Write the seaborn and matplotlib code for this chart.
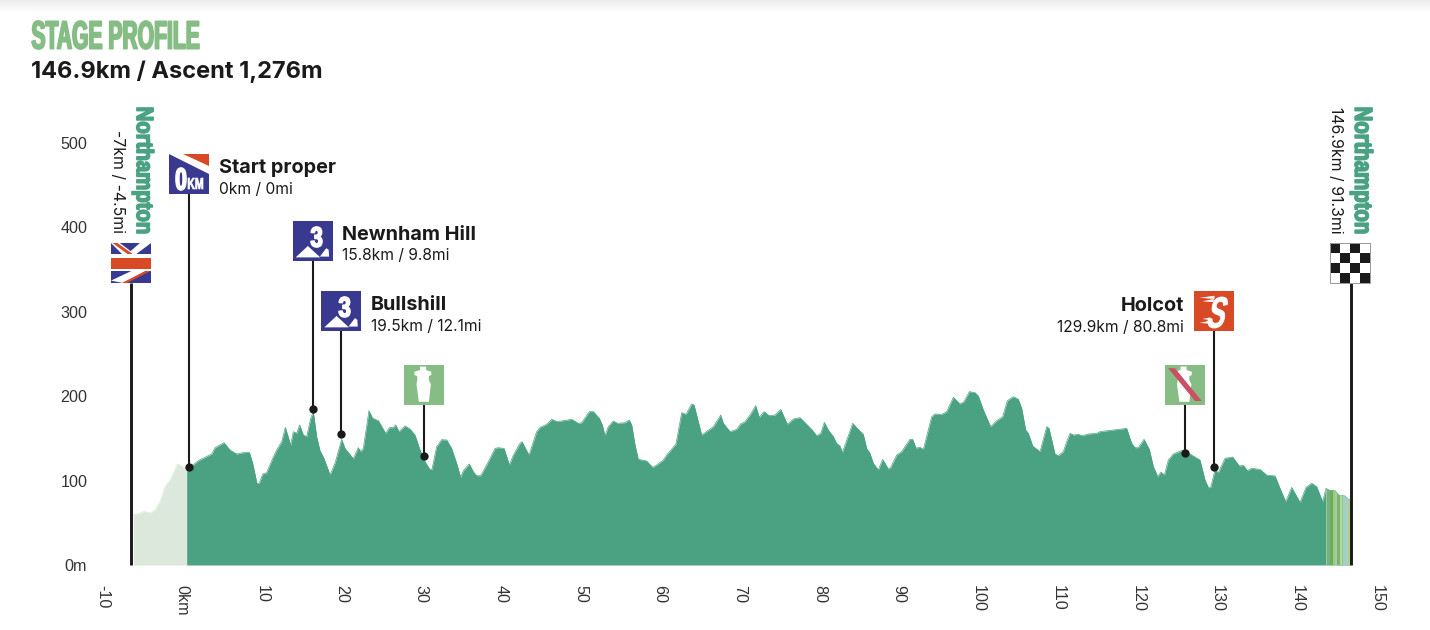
import numpy as np
import matplotlib
matplotlib.use("Agg")
import matplotlib.pyplot as plt
import seaborn as sns
from matplotlib.patches import Polygon, Rectangle
from matplotlib.text import Text
from matplotlib.textpath import TextPath
from matplotlib.transforms import Affine2D, Bbox, ScaledTranslation

# ---------- data ----------
lead_km = [-6.49,-5.86,-5.11,-4.39,-3.77,-3.14,-2.51,-1.88,-1.38,-0.96,-0.42,0.21]
lead_m = [59.2,60.8,63.6,61.6,65.2,75.0,92.8,100.7,110.6,119.7,117.3,112.6]

stage_km = [0.21,0.84,1.67,2.51,3.35,3.77,4.90,5.65,6.49,7.32,8.08,8.50,9.04,9.33,9.75,10.25,11.01,11.51,12.14,12.60,
 13.27,13.60,14.02,14.40,14.86,15.28,15.78,16.11,16.53,16.95,17.45,18.21,18.83,19.67,20.09,21.14,21.76,22.06,22.39,23.10,
 23.56,24.28,25.20,25.66,26.16,26.45,26.87,27.62,28.25,28.88,29.51,30.14,30.76,31.01,31.60,32.23,32.86,33.48,34.11,34.61,
 34.95,35.70,36.20,36.62,37.13,38.09,38.93,39.34,40.06,40.73,41.23,42.06,42.32,43.19,44.16,44.58,45.41,46.04,46.75,48.55,
 49.39,49.81,50.77,51.27,52.03,52.40,52.74,53.15,53.78,54.29,55.25,55.79,56.09,56.51,56.92,57.97,58.72,59.23,60.06,60.48,
 61.65,62.37,62.91,63.62,63.92,64.88,66.35,67.26,67.60,68.44,69.27,69.77,70.32,70.94,71.66,72.11,72.70,73.37,74.08,74.80,
 75.63,76.39,77.22,78.69,79.32,79.82,80.28,80.78,81.41,81.82,82.24,82.54,83.84,84.42,85.17,85.59,86.01,86.43,87.06,87.60,
 88.31,88.61,89.36,89.98,91.03,91.37,91.78,92.29,92.71,93.76,94.17,95.01,95.64,96.48,97.31,97.81,98.49,99.20,99.62,100.25,
 101.16,101.92,102.67,103.26,104.01,104.64,105.06,105.56,105.90,106.44,107.36,108.20,108.49,109.24,109.66,110.29,110.71,111.13,111.54,112.17,
 112.67,113.43,114.47,114.89,118.24,118.87,119.29,119.71,120.42,121.09,121.59,122.14,122.55,122.97,123.47,124.10,125.36,126.40,127.45,128.08,
 128.50,128.79,129.34,129.75,130.59,131.55,132.39,132.89,133.39,133.94,134.98,135.82,136.87,137.50,138.21,138.96,140.01,140.76,141.47,142.10,
 142.85,143.27,143.77,144.40,144.82,145.66,146.08,146.29]
stage_m = [112.6,117.3,123.6,127.6,131.5,139.0,144.9,136.3,131.5,133.1,133.5,120.5,96.4,96.8,107.8,109.4,126.4,136.3,146.1,163.1,
 141.8,158.0,156.0,165.9,154.0,152.1,173.8,181.7,152.1,135.5,126.4,106.6,120.5,148.9,138.2,126.0,139.0,134.3,138.2,182.9,
 173.8,171.0,156.0,162.7,162.7,165.9,158.0,164.7,161.1,154.0,136.3,122.4,113.0,113.3,140.2,148.5,148.1,138.2,120.5,103.9,
 111.8,119.7,110.6,105.8,105.8,122.4,138.2,139.0,138.2,118.5,130.3,144.2,146.1,130.3,158.0,163.1,166.7,172.6,169.8,172.6,
 167.9,168.6,181.7,181.7,173.8,165.9,153.2,163.9,170.6,167.9,168.6,171.8,165.9,142.2,125.2,123.2,115.7,118.5,124.4,130.3,
 143.4,180.5,178.5,190.8,189.6,154.0,163.9,177.7,167.9,158.0,160.7,167.1,169.8,177.7,188.8,175.0,181.7,176.9,177.7,184.4,
 166.7,173.0,174.6,160.7,153.2,156.0,169.0,160.0,152.1,144.2,141.0,133.1,167.9,161.9,154.8,138.2,132.3,120.5,112.6,125.2,
 113.7,115.7,130.3,134.3,148.9,148.9,138.6,139.4,137.0,175.7,178.9,178.5,181.7,198.7,190.8,193.5,205.4,204.2,200.2,183.6,
 163.9,171.0,175.7,194.7,199.4,196.3,185.6,160.0,156.0,141.0,134.3,163.9,161.9,131.5,129.5,134.3,146.1,156.0,154.0,154.8,
 153.2,155.2,156.0,158.0,161.9,144.2,139.0,139.0,148.9,137.0,116.5,104.7,110.2,106.2,124.4,131.5,136.3,130.3,124.4,100.7,
 91.6,92.0,112.6,109.4,126.4,128.0,117.3,118.1,111.8,114.5,113.3,106.6,105.5,90.8,75.0,92.0,74.2,92.0,96.8,92.8,
 75.0,90.8,88.1,88.1,82.9,81.8,77.0,77.8]

stripe_edges_km = [143.27,143.44,143.73,144.19,144.40,144.65,144.82,145.07,145.24,145.44,145.74,146.07,146.29]
stripe_colors = ["#9CCB86","#74B08C","#6FB04E","#9CC97F","#A8CCA8","#74B08C","#7AB858","#B7D7A8","#8FC39A","#A6D1BE","#A2CFC8","#B6CF8D"]

x_ticks = list(range(-10, 151, 10))
x_labels = ["-10", "0km"] + [str(v) for v in range(10, 151, 10)]
y_ticks = [0, 100, 200, 300, 400, 500]
y_labels = ["0m", "100", "200", "300", "400", "500"]

# waypoint poles: km position on the drawn axis, height of the dot, height of the sign
depart_km, finish_km = -6.78, 146.46
finish_sign_km = 146.25
ends_sign_m = 334.1
point_km = [0.56, 16.03, 19.63, 30.07, 125.56, 129.17]
point_m = [116.0, 184.8, 155.2, 129.5, 133.0, 115.8]
point_sign_m = [439.6, 360.2, 277.3, 189.6, 189.6, 277.3]

# ---------- style ----------
W, H = 1430, 630
sns.set_theme(style="white")
plt.rcParams["font.family"] = ["Inter", "Liberation Sans", "DejaVu Sans"]
DARK, LIGHT, GREEN = "#4AA283", "#DCE8DC", "#85BD85"
BLUE, RED, INK, PINK = "#39398F", "#D84A26", "#1A1A1A", "#CC4F66"
fx = lambda px: px / W
fy = lambda py: 1 - py / H


class FittedText(Text):
    """Real text whose glyphs are fitted into a pixel box (condensed display face)."""

    def __init__(self, box, s, rot=0, stroke=0.6, skew=0, **kw):
        l, t, r, b = box
        super().__init__(fx((l + r) / 2), fy((t + b) / 2), s, ha="center", va="center", **kw)
        self._box, self._rot, self._stroke, self._skew = box, rot, stroke, skew
        # natural size chosen so the plain metrics of the string stay inside the box
        long_side = (b - t) if rot else (r - l)
        short_side = (r - l) if rot else (b - t)
        bb = TextPath((0, 0), s, size=40, prop=self.get_fontproperties()).get_extents()
        size_px = 40 * min(long_side / bb.width, 0.8 * short_side / (bb.height + 12))
        self.set_fontsize(size_px * 0.72)
        self.set_rotation(rot)

    def get_window_extent(self, renderer=None, dpi=None):
        l, t, r, b = self._box
        return Bbox([[l, H - b], [r, H - t]])

    def draw(self, renderer):
        l, t, r, b = self._box
        tp = TextPath((0, 0), self.get_text(), size=40, prop=self.get_fontproperties())
        bb = tp.get_extents()
        if self._rot == 0:
            w, h = r - l, b - t
            tf = (Affine2D().translate(-bb.x0, -bb.y0).scale(w / bb.width, h / bb.height)
                  .skew_deg(self._skew, 0).translate(l, H - b))
        else:
            w, h = b - t, r - l
            tf = Affine2D().translate(-bb.x0, -bb.y0).scale(w / bb.width, h / bb.height).rotate_deg(-90).translate(l, H - t)
        gc = renderer.new_gc()
        gc.set_foreground(self.get_color())
        gc.set_linewidth(self._stroke)
        renderer.draw_path(gc, tp, tf, rgbFace=matplotlib.colors.to_rgba(self.get_color()))
        gc.restore()


fig = plt.figure(figsize=(W / 100, H / 100), dpi=100, facecolor="white")

# soft shadow along the top edge
shade = fig.add_axes([0, fy(13), 1, 13 / H])
shade.imshow(np.linspace(0.925, 1, 32).reshape(-1, 1), cmap="gray", vmin=0, vmax=1, aspect="auto")
shade.axis("off")

ax = fig.add_axes([fx(105.36), fy(565), 1274.24 / W, 422 / H])
ax.set_xlim(-10, 150)
ax.set_ylim(0, 500)
sns.despine(ax=ax, left=True, bottom=True, top=True, right=True)

# ---------- profile ----------
ax.fill_between(lead_km, lead_m, 0, color=LIGHT, lw=0, zorder=2)
ax.fill_between(stage_km, stage_m, 0, color=DARK, lw=0, zorder=2)
sns.lineplot(x=lead_km, y=lead_m, color=LIGHT, lw=0.5, ax=ax, sort=False, errorbar=None, zorder=2)
sns.lineplot(x=stage_km, y=stage_m, color=DARK, lw=0.5, ax=ax, sort=False, errorbar=None, zorder=2)
clip = Polygon(np.column_stack([stage_km + [stage_km[-1], stage_km[0]], stage_m + [0, 0]]), transform=ax.transData)
for a, b, c in zip(stripe_edges_km[:-1], stripe_edges_km[1:], stripe_colors):
    span = ax.axvspan(a, b, color=c, lw=0, zorder=3)
    span.set_clip_path(clip)

# ---------- poles ----------
for k in [depart_km, finish_km]:
    ax.plot([k, k], [0, ends_sign_m], color=INK, lw=2.1, solid_capstyle="butt", zorder=4, clip_on=False)
for k, top, dot in zip(point_km, point_sign_m, point_m):
    ax.plot([k, k], [dot, top], color=INK, lw=1.5, solid_capstyle="butt", zorder=4, clip_on=False)
sns.scatterplot(x=point_km, y=point_m, color=INK, s=36, linewidth=0, ax=ax, zorder=5, clip_on=False, legend=False)

# ---------- sign icons ----------
SX, SY = 40 / 7.964, 40 / 0.844


def unit(k, bottom):
    return Affine2D().scale(SX, SY).translate(k - SX / 2, bottom) + ax.transData


def poly(tf, pts, color, z=6):
    ax.add_patch(Polygon(pts, closed=True, facecolor=color, edgecolor="none", transform=tf, zorder=z, clip_on=False))


def square(tf, color):
    poly(tf, [(0, 0), (1, 0), (1, 1), (0, 1)], color)


def glyph(box, s, color="white", **kw):
    fig.add_artist(FittedText(box, s, color=color, zorder=9, **kw))


BOTTLE = [(.39, .96), (.54, .96), (.54, .875), (.67, .83), (.67, .75), (.61, .72), (.61, .62), (.66, .52),
          (.61, .08), (.36, .08), (.3, .52), (.32, .62), (.32, .72), (.25, .75), (.25, .83), (.39, .875)]
NARROW = dict(family=["Liberation Sans Narrow", "Liberation Sans"], weight="bold")

# flag
tf = unit(depart_km, ends_sign_m)
square(tf, BLUE)
poly(tf, [(0, 1), (.22, 1), (.62, .7), (.3, .7)], "white", 7)
poly(tf, [(.72, 1), (1, 1), (.6, .7), (.38, .7)], "white", 7)
poly(tf, [(.04, 1), (.16, 1), (.55, .72), (.42, .72)], RED, 7.5)
poly(tf, [(0, .06), (.3, 0), (1, .32), (.55, .32)], "white", 7)
poly(tf, [(.27, 0), (.4, 0), (.98, .3), (.85, .3)], RED, 7.5)
poly(tf, [(0, .3), (1, .3), (1, .72), (0, .72)], "white", 8)
poly(tf, [(0, .35), (1, .35), (1, .63), (0, .63)], RED, 8)

# 0 km
tf = unit(point_km[0], point_sign_m[0])
square(tf, BLUE)
poly(tf, [(0, 1), (1, 1), (1, .5)], "white", 7)
poly(tf, [(.33, 1), (1, 1), (1, .71)], RED, 8)
glyph((176, 168, 186, 190), "0", stroke=1.2, **NARROW)
glyph((188, 178, 203, 189), "KM", stroke=0.5, **NARROW)

# category 3 climbs
for k, sign, box in [(point_km[1], point_sign_m[1], (311, 227, 322, 247)),
                     (point_km[2], point_sign_m[2], (339, 297, 350, 317))]:
    tf = unit(k, sign)
    square(tf, BLUE)
    poly(tf, [(.075, .09), (.38, .375), (.69, .09)], "white", 7)
    poly(tf, [(.68, .11), (.84, .32), (.9, .28), (.91, .11)], "white", 7)
    glyph(box, "3", stroke=1.2, **NARROW)

# feed zone, feed zone end
tf = unit(point_km[3], point_sign_m[3])
square(tf, GREEN)
poly(tf, BOTTLE, "white", 7)
tf = unit(point_km[4], point_sign_m[4])
square(tf, GREEN)
poly(tf, BOTTLE, "white", 7)
poly(tf, [(.08, .92), (.25, .92), (.92, .1), (.75, .1)], PINK, 8)

# sprint
tf = unit(point_km[5], point_sign_m[5])
square(tf, RED)
for p in ([(.15, .83), (.52, .88), (.52, .8)], [(.22, .74), (.5, .8), (.5, .72)],
          [(.15, .2), (.42, .26), (.42, .18)], [(.22, .3), (.42, .34), (.42, .27)]):
    poly(tf, p, "white", 7)
glyph((1206, 297, 1222, 328), "S", family="Liberation Sans", weight="bold", skew=14, stroke=0.6)

# checkered finish
tf = unit(finish_sign_km, ends_sign_m)
square(tf, "white")
for r in range(4):
    for c in range(4):
        if (r + c) % 2 == 0:
            poly(tf, [(c / 4, 1 - r / 4), ((c + 1) / 4, 1 - r / 4), ((c + 1) / 4, 1 - (r + 1) / 4), (c / 4, 1 - (r + 1) / 4)], INK, 7)
ax.add_patch(Rectangle((0, 0), 1, 1, fill=False, ec="#999999", lw=0.7, transform=tf, zorder=8, clip_on=False))

# ---------- axes text ----------
ax.set_xticks(x_ticks, x_labels, rotation=-90, ha="center", va="top", family="Liberation Sans", fontsize=11.6, color="#333333")
ax.set_yticks(y_ticks, y_labels, family="Liberation Sans", fontsize=11.6, color="#333333")
ax.tick_params(axis="x", length=0, pad=14.4)
ax.tick_params(axis="y", length=0, pad=13)
ax.grid(False)
nudge = ScaledTranslation(-2 / 72, 0, fig.dpi_scale_trans)
for lbl in ax.get_xticklabels():
    lbl.set_transform(lbl.get_transform() + nudge)

# ---------- headings and labels ----------
fig.add_artist(FittedText((32, 21, 199, 49), "STAGE PROFILE", color=GREEN, stroke=1.3, **NARROW))
fig.text(fx(31), fy(71.5), "146.9km / Ascent 1,276m", fontsize=17, fontweight="bold", color=INK, va="center")

for name, sub, px, py1, py2, ha in [
    ("Start proper", "0km / 0mi", 219, 168, 190, "left"),
    ("Newnham Hill", "15.8km / 9.8mi", 342, 235, 256, "left"),
    ("Bullshill", "19.5km / 12.1mi", 371, 305, 326, "left"),
    ("Holcot", "129.9km / 80.8mi", 1184, 306, 328, "right"),
]:
    fig.text(fx(px), fy(py1), name, fontsize=14.3, fontweight="bold", color=INK, ha=ha, va="center")
    fig.text(fx(px), fy(py2), sub, fontsize=11.2, color=INK, ha=ha, va="center")

fig.add_artist(FittedText((132, 108, 154, 233), "Northampton", rot=-90, color=DARK, stroke=1.2, **NARROW))
fig.add_artist(FittedText((1350, 108, 1373, 233), "Northampton", rot=-90, color=DARK, stroke=1.2, **NARROW))
fig.text(fx(117.5), fy(233.5), "-7km / -4.5mi", rotation=-90, fontsize=11.4, color=INK, ha="center", va="bottom")
fig.text(fx(1335.5), fy(233.5), "146.9km / 91.3mi", rotation=-90, fontsize=11.4, color=INK, ha="center", va="bottom")

fig.savefig("out.png", dpi=100, facecolor="white")
